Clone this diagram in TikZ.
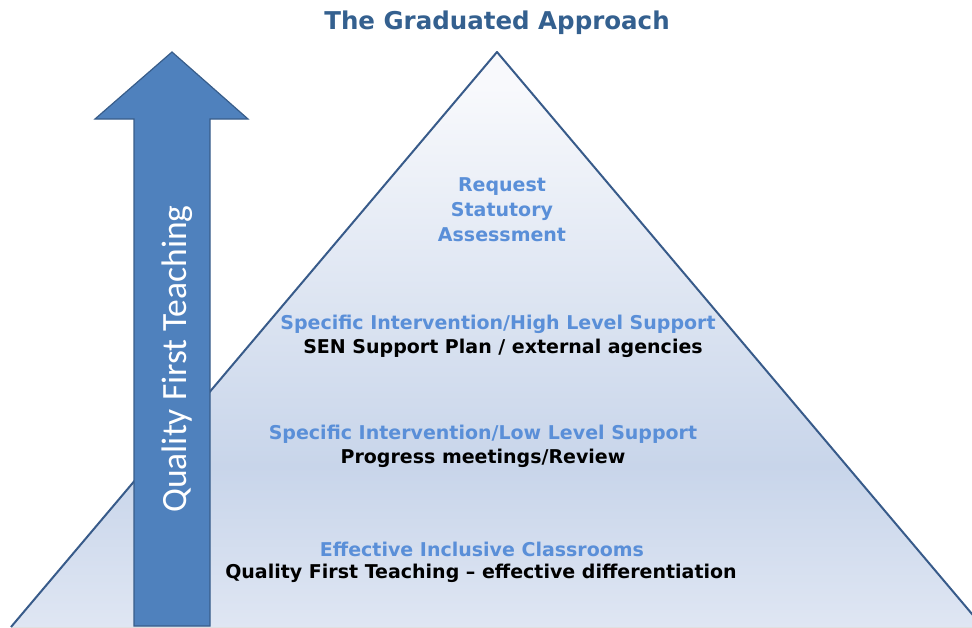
\documentclass[tikz,border=0pt]{standalone}
\usepackage{fontspec}
\setmainfont{DejaVu Sans}
\newfontfamily\calib{Carlito}
\definecolor{arrowfill}{HTML}{4F81BD}
\definecolor{arrowline}{HTML}{385D8A}
\definecolor{triline}{HTML}{385B8A}
\definecolor{titleblue}{HTML}{34608F}
\definecolor{lightblue}{HTML}{5A8FD8}
\definecolor{tritop}{HTML}{F8F9FC}
\definecolor{trimid}{HTML}{C8D5EA}
\definecolor{tribot}{HTML}{DFE6F3}
\pgfdeclareverticalshading{trishade}{100bp}{color(0bp)=(tribot); color(25bp)=(tribot); color(39bp)=(trimid); color(72bp)=(tritop); color(100bp)=(tritop)}
\tikzset{
  lbl/.style={font=\bfseries\fontsize{19}{22}\selectfont, inner sep=0pt, anchor=center},
  blue lbl/.style={lbl, text=lightblue},
  black lbl/.style={lbl, text=black},
}
\begin{document}
\begin{tikzpicture}[x=1pt,y=-1pt]
\useasboundingbox (0,0) rectangle (972,627);
\clip (0,0) rectangle (972,627);
% triangle
\coordinate (apex) at (497,52);
\coordinate (bl) at (11,627);
\coordinate (br) at (983,627);
\fill[shading=trishade] (apex) -- (br) -- (bl) -- cycle;
\draw[triline, line width=2pt, line join=round] (bl) -- (apex) -- (br);
% title
\node[font=\bfseries\fontsize{24.5}{28}\selectfont, text=titleblue, inner sep=0pt] (title) at (497,23) {The Graduated Approach};
% arrow
\draw[fill=arrowfill, draw=arrowline, line width=1.2pt, line join=miter]
  (172,52) -- (248,119) -- (210,119) -- (210,626) -- (134,626) -- (134,119) -- (95,119) -- cycle;
\node[rotate=90, text=white, font=\calib\fontsize{35.5}{40}\selectfont, inner sep=0pt] (qft) at (177,359) {Quality First Teaching};
% labels
\node[blue lbl] (req) at (502,187) {Request};
\node[blue lbl] (stat) at (502,211) {Statutory};
\node[blue lbl] (ass) at (502,235) {Assessment};
\node[blue lbl] (high) at (498,324) {Specific Intervention/High Level Support};
\node[black lbl] (sen) at (503,348) {SEN Support Plan / external agencies};
\node[blue lbl] (low) at (483,434) {Specific Intervention/Low Level Support};
\node[black lbl] (prog) at (483,458) {Progress meetings/Review};
\node[blue lbl] (eff) at (482,549) {Effective Inclusive Classrooms};
\node[black lbl] (qual) at (481,573) {Quality First Teaching -- effective differentiation};
\end{tikzpicture}
\end{document}
